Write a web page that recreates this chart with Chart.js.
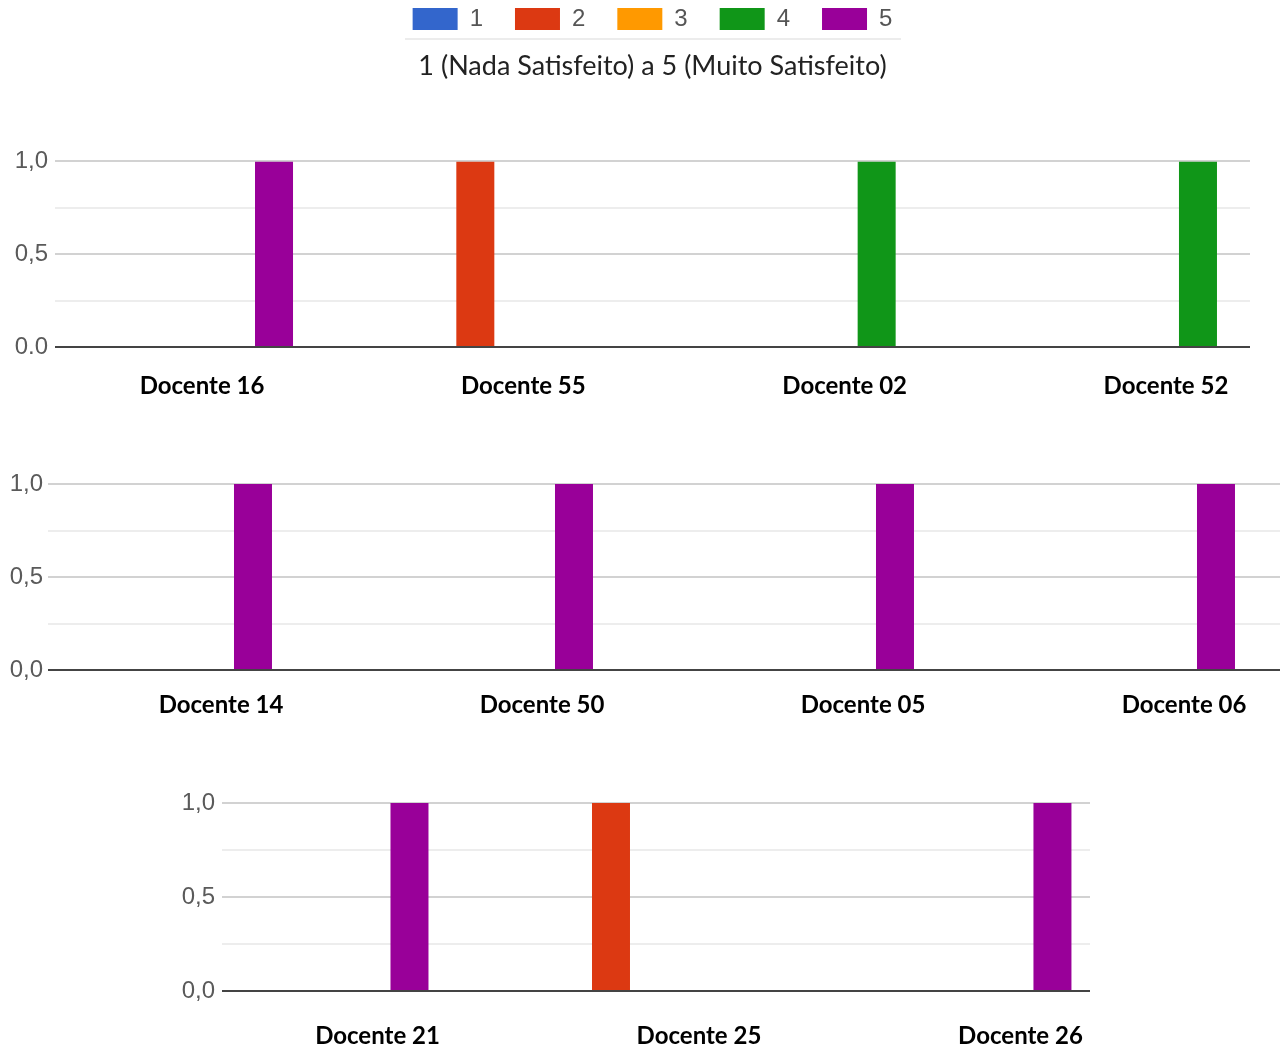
<!DOCTYPE html>
<html>
<head>
<meta charset="utf-8">
<script src="https://cdn.jsdelivr.net/npm/chart.js@4.4.0/dist/chart.umd.min.js"></script>
<style>
  html, body { margin: 0; padding: 0; background: #fff; overflow: hidden; width: 1280px; height: 1049px; }
  canvas { position: absolute; left: 0; }
  #legendRule { position: absolute; left: 405px; top: 38px; width: 496px; height: 2px; background: #ececec; }
</style>
</head>
<body>
<canvas id="row1" width="1280" height="445" style="top:-25px"></canvas>
<canvas id="row2" width="1280" height="290" style="top:450px"></canvas>
<canvas id="row3" width="1280" height="290" style="top:770px"></canvas>
<div id="legendRule"></div>
<script>
// satisfaction scores 1..5
const scoreNames = ['1', '2', '3', '4', '5'];
const scoreColors = ['#3366cc', '#dc3912', '#ff9900', '#109618', '#990099'];
const titleText = '1 (Nada Satisfeito) a 5 (Muito Satisfeito)';

// row 1
const row1Labels = ['Docente 16', 'Docente 55', 'Docente 02', 'Docente 52'];
const row1Score1 = [0, 0, 0, 0];
const row1Score2 = [0, 1, 0, 0];
const row1Score3 = [0, 0, 0, 0];
const row1Score4 = [0, 0, 1, 1];
const row1Score5 = [1, 0, 0, 0];

// row 2
const row2Labels = ['Docente 14', 'Docente 50', 'Docente 05', 'Docente 06'];
const row2Score1 = [0, 0, 0, 0];
const row2Score2 = [0, 0, 0, 0];
const row2Score3 = [0, 0, 0, 0];
const row2Score4 = [0, 0, 0, 0];
const row2Score5 = [1, 1, 1, 1];

// row 3
const row3Labels = ['Docente 21', 'Docente 25', 'Docente 26'];
const row3Score1 = [0, 0, 0];
const row3Score2 = [0, 1, 0];
const row3Score3 = [0, 0, 0];
const row3Score4 = [0, 0, 0];
const row3Score5 = [1, 0, 1];

// y axis tick labels
const yTickValues = [0, 0.5, 1];
const row1YTicks = ['0.0', '0,5', '1,0'];
const yTicks = ['0,0', '0,5', '1,0'];

function gridColor(c) {
  const v = c.tick.value;
  if (v === 0) return '#444444';
  if (v === 0.5 || v === 1) return '#d2d2d2';
  return '#ededed';
}

function makeRow(id, labels, series, tickText, o) {
  return new Chart(document.getElementById(id), {
    type: 'bar',
    data: {
      labels: labels,
      datasets: series.map((vals, i) => ({
        label: scoreNames[i],
        data: vals,
        backgroundColor: scoreColors[i],
        borderWidth: 0,
        categoryPercentage: o.catPct,
        barPercentage: 0.95
      }))
    },
    options: {
      responsive: false,
      animation: false,
      layout: { padding: o.pad },
      plugins: {
        legend: o.legend ? {
          display: true,
          position: 'top',
          fullSize: false,
          labels: {
            boxWidth: 45, boxHeight: 22, padding: 32,
            color: '#555',
            font: { family: 'Liberation Sans', size: 24 }
          }
        } : { display: false },
        title: o.legend ? {
          display: true,
          text: titleText,
          color: '#222',
          weight: 500,
          fullSize: false,
          font: { family: 'Lato', size: 27, weight: 'normal' },
          padding: { top: 9, bottom: 79 }
        } : { display: false },
        tooltip: { enabled: false }
      },
      scales: {
        x: {
          grid: { display: false },
          border: { display: false },
          ticks: {
            color: '#000',
            font: { family: 'Lato', size: 24, weight: 'bold' },
            padding: o.labelPad,
            labelOffset: o.labelShift,
            maxRotation: 0,
            autoSkip: false
          },
          afterBuildTicks: s => { s._startValue = o.start; s._valueRange = o.range; },
          afterFit: s => { s.height = o.xHeight; }
        },
        y: {
          min: 0, max: 1,
          border: { display: false },
          grid: { drawTicks: false, color: gridColor, lineWidth: 2 },
          ticks: {
            stepSize: 0.25,
            padding: o.yPad,
            color: '#5a5a5a',
            font: { family: 'Liberation Sans', size: 24 },
            callback: v => {
              const k = yTickValues.indexOf(v);
              return k < 0 ? '' : tickText[k];
            }
          },
          afterFit: s => { s.width = o.yWidth; }
        }
      }
    }
  });
}

makeRow('row1', row1Labels,
  [row1Score1, row1Score2, row1Score3, row1Score4, row1Score5], row1YTicks,
  { legend: true, pad: { left: 0, right: 30, top: 0, bottom: 0 }, yWidth: 55, yPad: 7,
    xHeight: 73, labelPad: 17, labelShift: 8, start: -0.4326, range: 3.719, catPct: 0.6225 });

makeRow('row2', row2Labels,
  [row2Score1, row2Score2, row2Score3, row2Score4, row2Score5], yTicks,
  { legend: false, pad: { left: 0, right: 0, top: 34, bottom: 0 }, yWidth: 48, yPad: 5,
    xHeight: 70, labelPad: 13, labelShift: 48, start: -0.3894, range: 3.838, catPct: 0.623 });

makeRow('row3', row3Labels,
  [row3Score1, row3Score2, row3Score3, row3Score4, row3Score5], yTicks,
  { legend: false, pad: { left: 0, right: 190, top: 33, bottom: 0 }, yWidth: 222, yPad: 7,
    xHeight: 69, labelPad: 23, labelShift: 48, start: -0.3344, range: 2.700, catPct: 0.622 });
</script>
</body>
</html>
